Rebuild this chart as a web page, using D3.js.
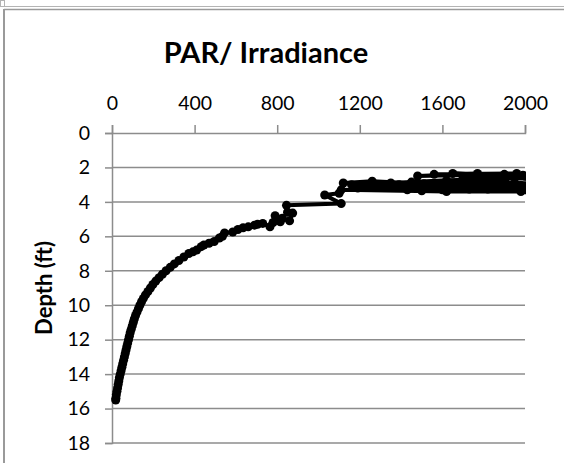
<!DOCTYPE html>
<html>
<head>
<meta charset="utf-8">
<script src="https://cdn.jsdelivr.net/npm/d3@7"></script>
<style>
  body { margin: 0; background: #fff; }
  svg { display: block; font-family: Lato, "Open Sans", sans-serif; }
</style>
</head>
<body>
<div id="chart"></div>
<script>

// PAR readings (x) and depth in ft (y), in cast order: surface first
const parValues = [
  2000, 1650, 1990, 1700, 1960, 1560, 1880, 2050, 1770, 1480, 1900, 2100, 1620, 1350, 1850,
  2050, 1700, 1420, 1980, 1560, 1160, 1450, 1900, 2080, 1600, 1300, 1780, 2000, 1500, 1190,
  1680, 2050, 1820, 1390, 1120, 1260, 1510, 1950, 2100, 1730, 1430, 1980, 1620, 1110, 1100,
  1030, 1110, 845, 850, 875, 860, 825, 815, 790, 780, 765, 730, 705, 690, 660,
  635, 610, 585, 545, 535, 520, 495, 470, 445, 432, 410, 392, 372, 348, 324,
  302, 282, 262, 244, 228, 212, 198, 186, 174, 162, 152, 143, 135, 128, 121,
  114, 108, 103, 98, 93, 88, 84, 80, 76, 72, 68, 64, 60, 56, 52,
  48, 44, 40, 36, 33, 30, 27, 24, 21, 19, 18
]
const depthValues = [
  2.5, 2.35, 2.45, 2.6, 2.35, 2.4, 2.55, 2.7, 2.35, 2.5, 2.4, 2.6, 2.75, 2.9, 2.85,
  3.0, 2.95, 3.1, 3.05, 3.2, 3.0, 2.85, 3.1, 3.2, 3.3, 3.1, 3.0, 3.3, 3.35, 3.2,
  3.15, 3.35, 3.25, 3.0, 2.9, 2.8, 2.95, 2.9, 2.95, 3.25, 3.3, 3.4, 3.4, 3.3, 3.5,
  3.6, 4.1, 4.2, 4.6, 4.65, 5.1, 4.95, 5.15, 4.8, 5.2, 5.45, 5.25, 5.3, 5.35, 5.45,
  5.5, 5.6, 5.75, 5.8, 6.0, 6.1, 6.3, 6.4, 6.5, 6.6, 6.8, 6.9, 7.0, 7.2, 7.4,
  7.6, 7.8, 8.0, 8.2, 8.4, 8.6, 8.8, 9.0, 9.2, 9.4, 9.6, 9.8, 10.0, 10.2, 10.4,
  10.6, 10.8, 11.0, 11.2, 11.4, 11.6, 11.8, 12.0, 12.2, 12.4, 12.6, 12.8, 13.0, 13.2, 13.4,
  13.6, 13.8, 14.0, 14.2, 14.4, 14.6, 14.8, 15.0, 15.2, 15.4, 15.5
]

const xTicks = [0, 400, 800, 1200, 1600, 2000]
const yTicks = [0, 2, 4, 6, 8, 10, 12, 14, 16, 18]

const title = 'PAR/ Irradiance'
const yTitle = 'Depth (ft)'

const width = 564
const height = 463

const margin = {top: 133, right: 39, bottom: 20, left: 112}

const data = parValues.map((p, i) => ({par: p, depth: depthValues[i]}))

const x = d3.scaleLinear()
.domain([0, 2000])
.range([margin.left, width - margin.right])

const y = d3.scaleLinear()
.domain([0, 18])
.range([margin.top, height - margin.bottom])

const svg = d3.select('#chart')
.append('svg')
.attr('width', width)
.attr('height', height)

// sheet frame lines
svg.append('line').attr('x1', 0).attr('x2', width).attr('y1', 6.5).attr('y2', 6.5)
.attr('stroke', '#b4b4b4').attr('stroke-width', 1)
svg.append('line').attr('x1', 4).attr('x2', width).attr('y1', 9.5).attr('y2', 9.5)
.attr('stroke', '#9a9a9a').attr('stroke-width', 1.5)
svg.append('line').attr('x1', 4).attr('x2', 4).attr('y1', 9).attr('y2', height)
.attr('stroke', '#9a9a9a').attr('stroke-width', 2)
svg.append('rect').attr('x', 0.5).attr('y', 0.5).attr('width', 4).attr('height', 6)
.attr('fill', 'none').attr('stroke', '#b4b4b4')

svg.append('text')
.attr('x', 266)
.attr('y', 63)
.attr('text-anchor', 'middle')
.attr('font-size', 29)
.attr('font-weight', 'bold')
.attr('fill', '#000')
.text(title)

// horizontal gridlines
svg.append('g')
.selectAll('line')
.data(yTicks.slice(1))
.enter()
.append('line')
.attr('x1', x(0))
.attr('x2', x(2000))
.attr('y1', d => y(d))
.attr('y2', d => y(d))
.attr('stroke', '#8c8c8c')
.attr('stroke-width', 1.5)

const xAxis = svg.append('g')
.attr('transform', `translate(0,${y(0)})`)
.call(d3.axisTop(x).tickValues(xTicks).tickFormat(d3.format('d')).tickSize(8).tickPadding(15))

const yAxis = svg.append('g')
.attr('transform', `translate(${x(0)},0)`)
.call(d3.axisLeft(y).tickValues(yTicks).tickSize(7).tickPadding(15))

;[xAxis, yAxis].forEach(a => {
	a.select('.domain').attr('stroke', '#8c8c8c').attr('stroke-width', 1.5)
	a.selectAll('.tick line').attr('stroke', '#8c8c8c').attr('stroke-width', 1.5)
	a.selectAll('.tick text')
	.attr('font-family', 'Lato, "Open Sans", sans-serif')
	.attr('font-size', 19.5)
	.attr('fill', '#000')
})

svg.append('text')
.attr('transform', `translate(52,${(y(0) + y(18)) / 2}) rotate(-90)`)
.attr('text-anchor', 'middle')
.attr('font-size', 22)
.attr('font-weight', 'bold')
.attr('fill', '#000')
.text(yTitle)

svg.append('clipPath')
.attr('id', 'plot-clip')
.append('rect')
.attr('x', x(0) - 6)
.attr('y', y(0) - 6)
.attr('width', x(2000) - x(0) + 7)
.attr('height', y(18) - y(0) + 12)

const plot = svg.append('g').attr('clip-path', 'url(#plot-clip)')

const line = d3.line()
.x(d => x(d.par))
.y(d => y(d.depth))

plot.append('path')
.datum(data)
.attr('d', line)
.attr('fill', 'none')
.attr('stroke', '#000')
.attr('stroke-width', 4)
.attr('stroke-linejoin', 'round')

plot.selectAll('circle')
.data(data)
.enter()
.append('circle')
.attr('cx', d => x(d.par))
.attr('cy', d => y(d.depth))
.attr('r', 4.5)
.attr('fill', '#000')

</script>
</body>
</html>
